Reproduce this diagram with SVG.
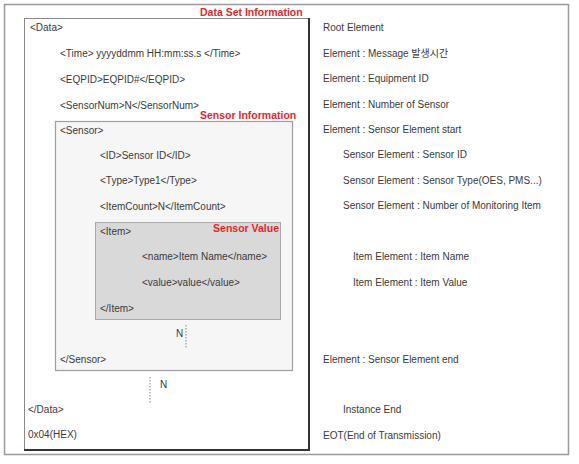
<svg xmlns="http://www.w3.org/2000/svg" width="579" height="464" viewBox="0 0 579 464">
<style>
.t{font-family:"Liberation Sans",Arial,sans-serif;font-size:10px;fill:#3a3a3a}
.r{font-family:"Liberation Sans",Arial,sans-serif;font-size:10.5px;font-weight:bold;fill:#e8262b}
.k{font-family:"Liberation Sans","Noto Sans CJK KR",sans-serif;font-size:10px;fill:#3a3a3a}
.dot{stroke:#888;stroke-width:1;stroke-dasharray:1.5 1.5;fill:none}
</style>
<rect x="0" y="0" width="579" height="464" fill="#fff"/>
<rect x="4.5" y="4.5" width="564" height="450" fill="#fff" stroke="#9a9a9a" stroke-width="1.5"/>
<g id="data-set">
<rect x="24.5" y="18.5" width="284" height="431" fill="#fff" stroke="#8a8a8a" stroke-width="1"/>
<path d="M309 18 V450 H24" fill="none" stroke="#333" stroke-width="2"/>
<text class="r" x="200" y="16">Data Set Information</text>
<text class="t" x="30" y="31">&lt;Data&gt;</text>
<text class="t" x="60" y="57">&lt;Time&gt; yyyyddmm HH:mm:ss.s &lt;/Time&gt;</text>
<text class="t" x="60" y="83">&lt;EQPID&gt;EQPID#&lt;/EQPID&gt;</text>
<text class="t" x="60" y="109">&lt;SensorNum&gt;N&lt;/SensorNum&gt;</text>
<text class="t" x="28" y="413">&lt;/Data&gt;</text>
<text class="t" x="28" y="438">0x04(HEX)</text>
</g>
<g id="sensor-info">
<rect x="55.5" y="121.5" width="237" height="249" fill="#f6f6f6" stroke="#a0a0a0" stroke-width="1.2"/>
<text class="r" x="200" y="119">Sensor Information</text>
<text class="t" x="60" y="134">&lt;Sensor&gt;</text>
<text class="t" x="100" y="159">&lt;ID&gt;Sensor ID&lt;/ID&gt;</text>
<text class="t" x="100" y="184">&lt;Type&gt;Type1&lt;/Type&gt;</text>
<text class="t" x="100" y="210">&lt;ItemCount&gt;N&lt;/ItemCount&gt;</text>
<text class="t" x="60" y="363">&lt;/Sensor&gt;</text>
</g>
<g id="sensor-value">
<rect x="95.5" y="222.5" width="185" height="97" fill="#d9d9d9" stroke="#a8a8a8" stroke-width="1"/>
<text class="r" x="279" y="232" text-anchor="end">Sensor Value</text>
<text class="t" x="100" y="235">&lt;Item&gt;</text>
<text class="t" x="142" y="260">&lt;name&gt;Item Name&lt;/name&gt;</text>
<text class="t" x="142" y="286">&lt;value&gt;value&lt;/value&gt;</text>
<text class="t" x="100" y="312">&lt;/Item&gt;</text>
</g>
<g id="connectors">
<line class="dot" x1="186" y1="325" x2="186" y2="348"/>
<line class="dot" x1="150" y1="377" x2="150" y2="404"/>
<text class="t" x="176" y="337">N</text>
<text class="t" x="160" y="388">N</text>
</g>
<g id="descriptions">
<text class="t" x="323" y="31">Root Element</text>
<text class="k" x="323" y="57">Element : Message 발생시간</text>
<text class="t" x="323" y="82">Element : Equipment ID</text>
<text class="t" x="323" y="108">Element : Number of Sensor</text>
<text class="t" x="323" y="133">Element : Sensor Element start</text>
<text class="t" x="343" y="158">Sensor Element : Sensor ID</text>
<text class="t" x="343" y="184">Sensor Element : Sensor Type(OES, PMS...)</text>
<text class="t" x="343" y="209">Sensor Element : Number of Monitoring Item</text>
<text class="t" x="353" y="260">Item Element : Item Name</text>
<text class="t" x="353" y="286">Item Element : Item Value</text>
<text class="t" x="323" y="363">Element : Sensor Element end</text>
<text class="t" x="343" y="413">Instance End</text>
<text class="t" x="323" y="439">EOT(End of Transmission)</text>
</g>
</svg>
